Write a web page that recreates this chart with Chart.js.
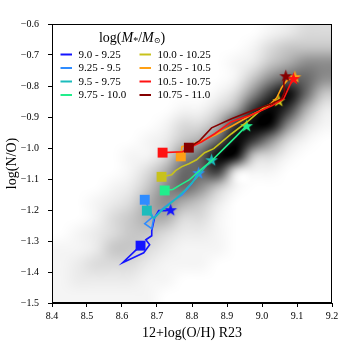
<!DOCTYPE html>
<html><head><meta charset="utf-8">
<script src="https://cdn.jsdelivr.net/npm/chart.js@4.4.0/dist/chart.umd.min.js"></script>
<style>html,body{margin:0;padding:0;background:#fff}#wrap{width:350px;height:350px}</style>
</head><body><div id="wrap"><canvas id="c" width="350" height="350"></canvas></div>
<script>
// ---- data ----
const massBins = ['9.0 - 9.25','9.25 - 9.5','9.5 - 9.75','9.75 - 10.0','10.0 - 10.25','10.25 - 10.5','10.5 - 10.75','10.75 - 11.0'];

const oh_900 = [8.653, 8.602, 8.662, 8.679, 8.668, 8.685, 8.685, 8.693, 8.705, 8.725, 8.739];
const no_900 = [-1.315, -1.370, -1.338, -1.312, -1.296, -1.283, -1.267, -1.225, -1.202, -1.202, -1.199];
const oh_925 = [8.665, 8.688, 8.665, 8.685, 8.691, 8.713, 8.742, 8.771, 8.799, 8.819];
const no_925 = [-1.167, -1.222, -1.244, -1.260, -1.225, -1.199, -1.173, -1.151, -1.115, -1.080];
const oh_950 = [8.671, 8.691, 8.713, 8.748, 8.782, 8.813, 8.836, 8.856];
const no_950 = [-1.202, -1.228, -1.202, -1.170, -1.134, -1.096, -1.064, -1.038];
const oh_975 = [8.722, 8.745, 8.768, 8.793, 8.822, 8.856, 8.891, 8.925, 8.956];
const no_975 = [-1.137, -1.134, -1.118, -1.102, -1.073, -1.041, -1.002, -0.964, -0.928];
const oh_1000 = [8.713, 8.742, 8.753, 8.771, 8.791, 8.813, 8.836, 8.862, 8.913, 8.962, 9.008, 9.048];
const no_1000 = [-1.093, -1.086, -1.073, -1.060, -1.051, -1.038, -1.015, -1.002, -0.954, -0.912, -0.867, -0.847];
const oh_1025 = [8.768, 8.771, 8.799, 8.836, 8.868, 8.916, 8.971, 9.013, 9.042, 9.056, 9.071, 9.094];
const no_1025 = [-1.027, -0.996, -0.989, -0.973, -0.957, -0.928, -0.893, -0.870, -0.838, -0.805, -0.783, -0.770];
const oh_1050 = [8.716, 8.773, 8.793, 8.828, 8.865, 8.913, 8.971, 9.028, 9.062, 9.079, 9.090];
const no_1050 = [-1.015, -1.012, -0.999, -0.980, -0.954, -0.915, -0.893, -0.864, -0.841, -0.799, -0.776];
const oh_1075 = [8.791, 8.822, 8.856, 8.913, 8.971, 9.028, 9.056, 9.065, 9.062, 9.068];
const no_1075 = [-0.999, -0.976, -0.935, -0.906, -0.880, -0.857, -0.841, -0.818, -0.789, -0.767];

const xTicks = [8.4, 8.5, 8.6, 8.7, 8.8, 8.9, 9.0, 9.1, 9.2];
const yTicks = [-0.6, -0.7, -0.8, -0.9, -1.0, -1.1, -1.2, -1.3, -1.4, -1.5];

// background galaxy density: 0.05 x 0.05 cells, rows from log(N/O)=-0.6 down to -1.5, columns 8.4 -> 9.2
const densityRows = [
  "0000000000001233",
  "0000000000013444",
  "0000000000124566",
  "0000000000146776",
  "0000000001368974",
  "0000000113589852",
  "0000001335899631",
  "0000012457986310",
  "0000113679943100",
  "0000135778211000",
  "0001246764100000",
  "0012356542000000",
  "0013455331000000",
  "0123443221000000",
  "1124432111000000",
  "1233321110000000",
  "1222211000000000",
  "1111110000000000"
];
const densityLevels = [0, 0.04, 0.08, 0.14, 0.22, 0.32, 0.45, 0.6, 0.8, 1.0];

// ---- styles ----
const colors = ['#1414ff','#2f8cff','#1cbcbc','#22ee8c','#c8c21c','#ffa014','#ff1212','#850000'];
const serif = '"Liberation Serif","Times New Roman","DejaVu Serif",serif';

const seriesX = [oh_900, oh_925, oh_950, oh_975, oh_1000, oh_1025, oh_1050, oh_1075];
const seriesY = [no_900, no_925, no_950, no_975, no_1000, no_1025, no_1050, no_1075];

function makeStar(color){
  const s = 15, c = document.createElement('canvas');
  c.width = s; c.height = s;
  const g = c.getContext('2d');
  const R = 6.8, r = 2.7, cx = s/2, cy = s/2 + 0.6;
  g.beginPath();
  for (let i = 0; i < 10; i++){
    const rad = i % 2 === 0 ? R : r;
    const ang = -Math.PI/2 + i*Math.PI/5;
    const px = cx + rad*Math.cos(ang), py = cy + rad*Math.sin(ang);
    if (i === 0) g.moveTo(px, py); else g.lineTo(px, py);
  }
  g.closePath();
  g.fillStyle = color; g.fill();
  return c;
}

function makeDensityImage(){
  const rows = densityRows.length, cols = densityRows[0].length;
  const c = document.createElement('canvas');
  c.width = cols; c.height = rows;
  const g = c.getContext('2d');
  const img = g.createImageData(cols, rows);
  for (let j = 0; j < rows; j++){
    for (let i = 0; i < cols; i++){
      const d = densityLevels[+densityRows[j][i]];
      const v = Math.round(255*(1-d));
      const k = (j*cols + i)*4;
      img.data[k] = v; img.data[k+1] = v; img.data[k+2] = v; img.data[k+3] = 255;
    }
  }
  g.putImageData(img, 0, 0);
  return c;
}
const densityImg = makeDensityImage();

const datasets = seriesX.map((xs, i) => {
  const star = makeStar(colors[i]);
  const n = xs.length;
  return {
    label: massBins[i],
    data: xs.map((x, k) => ({x: x, y: seriesY[i][k]})),
    showLine: true,
    borderColor: colors[i],
    backgroundColor: colors[i],
    borderWidth: 1.6,
    tension: 0,
    order: 7 - i,
    pointStyle: (ctx) => ctx.dataIndex === 0 ? 'rect' : (ctx.dataIndex === n-1 ? star : 'circle'),
    pointRadius: (ctx) => (ctx.dataIndex === 0 || ctx.dataIndex === n-1) ? 7 : 0,
    pointHoverRadius: (ctx) => (ctx.dataIndex === 0 || ctx.dataIndex === n-1) ? 7 : 0,
    pointBackgroundColor: colors[i],
    pointBorderColor: colors[i],
    pointBorderWidth: 0
  };
});

const bgPlugin = {
  id: 'density',
  beforeDatasetsDraw(chart){
    const {ctx, chartArea: a, scales: {x, y}} = chart;
    ctx.save();
    ctx.beginPath(); ctx.rect(a.left, a.top, a.right - a.left, a.bottom - a.top); ctx.clip();
    ctx.imageSmoothingEnabled = true;
    ctx.imageSmoothingQuality = 'high';
    const x0 = x.getPixelForValue(xTicks[0]), x1 = x.getPixelForValue(xTicks[xTicks.length-1]);
    const y0 = y.getPixelForValue(yTicks[0]), y1 = y.getPixelForValue(yTicks[yTicks.length-1]);
    ctx.drawImage(densityImg, x0, y0, x1 - x0, y1 - y0);
    ctx.restore();
  },
  afterDraw(chart){
    const {ctx, chartArea: a} = chart;
    ctx.save();
    ctx.strokeStyle = '#000'; ctx.lineWidth = 1;
    ctx.strokeRect(Math.round(a.left)+0.5, Math.round(a.top)+0.5, Math.round(a.right-a.left)-1, Math.round(a.bottom-a.top)-1);
    // legend title: log(M*/M_sun)
    const parts = [
      ['log(', '14px', 0], ['M', 'italic 14px', 0], ['*', '10px', 3], ['/', '14px', 0],
      ['M', 'italic 14px', 0], ['\u2299', '8px', 3], [')', '14px', 0]
    ];
    let tw = 0;
    parts.forEach(p => { ctx.font = p[1] + ' ' + serif; tw += ctx.measureText(p[0]).width; });
    let tx = 132 - tw/2;
    const ty = 38;
    ctx.fillStyle = '#000'; ctx.textBaseline = 'middle'; ctx.textAlign = 'left';
    parts.forEach(p => { ctx.font = p[1] + ' ' + serif; ctx.fillText(p[0], tx, ty + p[2]); tx += ctx.measureText(p[0]).width; });
    // legend entries, two columns
    const rowsY = [54.5, 68, 81.5, 95];
    ctx.font = '11px ' + serif;
    chart.data.datasets.forEach((ds, i) => {
      const col = Math.floor(i / 4), row = i % 4;
      const hx = col === 0 ? 60.5 : 139.5;
      const yy = rowsY[row];
      ctx.strokeStyle = ds.borderColor; ctx.lineWidth = 2;
      ctx.beginPath(); ctx.moveTo(hx, yy); ctx.lineTo(hx + 11.5, yy); ctx.stroke();
      ctx.fillStyle = '#000';
      ctx.fillText(ds.label, hx + 18, yy + 0.5);
    });
    ctx.restore();
  }
};

const fmt = v => (v < 0 ? '\u2212' : '') + Math.abs(v).toFixed(1);

new Chart(document.getElementById('c'), {
  type: 'scatter',
  data: { datasets },
  options: {
    responsive: false,
    animation: false,
    devicePixelRatio: 1,
    layout: { padding: { left: 0, right: 18, top: 24, bottom: 0 } },
    plugins: { legend: { display: false }, tooltip: { enabled: false } },
    scales: {
      x: {
        type: 'linear', min: 8.4, max: 9.2,
        afterBuildTicks: s => { s.ticks = xTicks.map(v => ({value: v})); },
        afterFit: s => { s.height = 47; },
        ticks: { callback: v => fmt(v), font: { family: serif, size: 10 }, color: '#000', padding: 3, maxRotation: 0, autoSkip: false },
        grid: { display: true, drawOnChartArea: false, drawTicks: true, tickLength: 4, tickColor: '#000', tickWidth: 1 },
        border: { display: true, color: '#000', width: 1 },
        title: { display: true, text: '12+log(O/H) R23', font: { family: serif, size: 14 }, color: '#000', padding: { top: 0, bottom: 8.6 } }
      },
      y: {
        type: 'linear', min: -1.5, max: -0.6,
        afterBuildTicks: s => { s.ticks = yTicks.map(v => ({value: v})); },
        afterFit: s => { s.width = 52; },
        ticks: { callback: v => fmt(v), font: { family: serif, size: 10 }, color: '#000', padding: 9, autoSkip: false },
        grid: { display: true, drawOnChartArea: false, drawTicks: true, tickLength: 4, tickColor: '#000', tickWidth: 1 },
        border: { display: true, color: '#000', width: 1 },
        title: { display: true, text: 'log(N/O)', font: { family: serif, size: 14 }, color: '#000', padding: { top: 4, bottom: 0 } }
      }
    }
  },
  plugins: [bgPlugin]
});
</script>
</body></html>
